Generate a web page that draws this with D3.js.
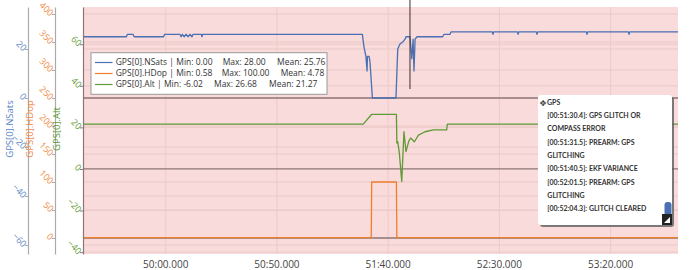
<!DOCTYPE html>
<html>
<head>
<meta charset="utf-8">
<script src="https://cdn.jsdelivr.net/npm/d3@7"></script>
<style>
  body { margin: 0; background: #fff; }
  svg { display: block; font-family: "Open Sans", sans-serif; }
</style>
</head>
<body>
<svg id="chart" width="690" height="270"></svg>
<script>
// log time in seconds (3000 = 50:00.000), value
var nsats = [
  [2962.8, 25], [2982.3, 25], [2982.8, 26], [2985.3, 26], [2985.8, 25],
  [2999.0, 25], [2999.5, 26], [3006.4, 26], [3006.9, 25], [3007.5, 26],
  [3008.3, 25], [3009.1, 26], [3010.1, 25], [3010.9, 26], [3011.8, 25],
  [3012.3, 26], [3016.0, 26], [3016.3, 25], [3016.6, 26], [3088.4, 26],
  [3089.1, 21], [3090.0, 17], [3090.5, 11], [3090.7, 17], [3091.4, 17],
  [3091.8, 15], [3092.9, 0], [3103.5, 0], [3104.3, 20], [3105.3, 22],
  [3106.7, 23], [3107.6, 24], [3108.0, 25], [3109.8, 25], [3110.6, 16],
  [3111.2, 24], [3111.6, 11], [3112.1, 24], [3113.0, 25], [3124.5, 25],
  [3125.1, 26], [3127.8, 26], [3128.3, 27], [3146.8, 27], [3147.1, 26],
  [3147.4, 27], [3158.1, 27], [3158.4, 26], [3158.7, 27], [3166.6, 27],
  [3166.9, 26], [3167.2, 27], [3189.1, 27], [3189.4, 26], [3189.7, 27],
  [3208.0, 27], [3208.3, 26], [3208.6, 27], [3230.3, 27]
];
var hdop = [
  [2962.8, 0.58], [3092.4, 0.58], [3092.6, 100], [3103.7, 100],
  [3103.9, 0.58], [3230.3, 0.58]
];
var alt = [
  [2962.8, 21.6], [3088.8, 21.6], [3092.6, 26.3], [3103.7, 26.3],
  [3103.9, 12.5], [3104.3, 13.1], [3105.0, 8], [3106.1, -6.02],
  [3107.1, 17.9], [3108.0, 8.3], [3109.3, 13.5], [3110.1, 14.9],
  [3111.8, 13.1], [3113.6, 16.3], [3116.6, 17.9], [3120.3, 18.8],
  [3126.3, 18.8], [3126.6, 21.6], [3230.3, 21.6]
];

var xTicks = [3000, 3050, 3100, 3150, 3200];
var nsatsTicks = [-60, -40, -20, 0, 20];
var hdopTicks = [0, 50, 100, 150, 200, 250, 300, 350, 400];
var altTicks = [-40, -20, 0, 20, 40, 60];

var seriesNames = ["GPS[0].NSats", "GPS[0].HDop", "GPS[0].Alt"];
var statMin = [0.00, 0.58, -6.02];
var statMax = [28.00, 100.00, 26.68];
var statMean = [25.76, 4.78, 21.27];

var cursorTime = 3109.8;
var msgTitle = "GPS";
var msgLines = [
  "[00:51:30.4]: GPS GLITCH OR", "COMPASS ERROR",
  "[00:51:31.5]: PREARM: GPS", "GLITCHING",
  "[00:51:40.5]: EKF VARIANCE",
  "[00:52:01.5]: PREARM: GPS", "GLITCHING",
  "[00:52:04.3]: GLITCH CLEARED"
];

var colors = ["#4a6fb3", "#f07f2c", "#5e9a36"];
var labelColors = ["#5a86c6", "#f08a45", "#5e9a36"];

var plotL = 83, plotR = 678, plotT = 7, plotB = 254;
var svg = d3.select("#chart");

var x = d3.scaleLinear().domain([2962.8, 3230.3]).range([plotL, plotR]);
var yN = d3.scaleLinear().domain([-63.67, 37.14]).range([plotB, plotT]);
var yH = d3.scaleLinear().domain([-28.6, 412.5]).range([plotB, plotT]);
var yA = d3.scaleLinear().domain([-40.9, 77.9]).range([plotB, plotT]);

function fmtTime(t) {
  var m = Math.floor(t / 60), s = t - m * 60;
  return d3.format("02d")(m) + ":" + d3.format("06.3f")(s);
}

// plot background
svg.append("rect")
  .attr("x", plotL).attr("y", plotT)
  .attr("width", plotR - plotL).attr("height", plotB - plotT)
  .attr("fill", "#f8dbda");

var grid = svg.append("g").attr("stroke", "#eccac8").attr("stroke-width", 1);
grid.selectAll("line.v").data(xTicks).enter().append("line")
  .attr("x1", function(d){ return x(d); }).attr("x2", function(d){ return x(d); })
  .attr("y1", plotT).attr("y2", plotB);

[[yN, nsatsTicks], [yH, hdopTicks], [yA, altTicks]].forEach(function(p) {
  grid.selectAll(null).data(p[1].filter(function(d){ return d != 0; })).enter().append("line")
    .attr("x1", plotL).attr("x2", plotR)
    .attr("y1", function(d){ return p[0](d); }).attr("y2", function(d){ return p[0](d); });
});

// zero lines
svg.append("g").selectAll("line").data([yN(0), yA(0), yH(0)]).enter().append("line")
  .attr("x1", plotL).attr("x2", plotR)
  .attr("y1", function(d){ return d; }).attr("y2", function(d){ return d; })
  .attr("stroke", "#8e7676").attr("stroke-width", 1.3);

// series
var scales = [yN, yH, yA];
[nsats, hdop, alt].forEach(function(data, i) {
  var line = d3.line()
    .x(function(d){ return x(d[0]); })
    .y(function(d){ return scales[i](d[1]); });
  svg.append("path").datum(data)
    .attr("d", line)
    .attr("fill", "none")
    .attr("stroke", colors[i])
    .attr("stroke-width", 1.3)
    .attr("stroke-linejoin", "round");
});

// cursor line
svg.append("line")
  .attr("x1", x(cursorTime)).attr("x2", x(cursorTime))
  .attr("y1", 0).attr("y2", 89)
  .attr("stroke", "#3a3030").attr("stroke-width", 1);

// x axis labels
svg.append("g").selectAll("text").data(xTicks).enter().append("text")
  .attr("x", function(d){ return x(d); })
  .attr("y", 264).attr("dy", "0.35em")
  .attr("text-anchor", "middle")
  .attr("font-size", "10px")
  .attr("fill", "#444")
  .text(fmtTime);

// y axes
var axisDefs = [
  {scale: yN, ticks: nsatsTicks, pos: 28, line: "#aaa"},
  {scale: yH, ticks: hdopTicks, pos: 55, line: "#aaa"},
  {scale: yA, ticks: altTicks, pos: 83, line: "#8e7676"}
];
axisDefs.forEach(function(a, i) {
  var g = svg.append("g")
    .attr("transform", "translate(" + a.pos + ",0)")
    .call(d3.axisLeft(a.scale).tickValues(a.ticks).tickSize(3).tickSizeOuter(0));
  g.select(".domain").attr("stroke", a.line).attr("stroke-width", 1.2);
  g.selectAll(".tick line").attr("stroke", a.line);
  g.selectAll(".tick text")
    .attr("x", 0).attr("dy", "0.35em")
    .attr("transform", "translate(-3,0) rotate(45)")
    .attr("text-anchor", "end")
    .attr("font-family", "Open Sans, sans-serif")
    .attr("font-size", "9px")
    .attr("fill", labelColors[i]);
});

// axis titles
var titleX = [10, 30, 57];
seriesNames.forEach(function(name, i) {
  svg.append("text")
    .attr("transform", "translate(" + titleX[i] + ",129) rotate(-90)")
    .attr("text-anchor", "middle")
    .attr("dy", "0.35em")
    .attr("font-size", "9.5px")
    .attr("fill", labelColors[i])
    .text(name);
});

// legend
var lg = svg.append("g");
lg.append("rect")
  .attr("x", 91).attr("y", 52.7).attr("width", 236).attr("height", 41.6)
  .attr("fill", "#fff").attr("stroke", "#999").attr("stroke-width", 1);
var rowY = [62.5, 73.5, 84.5];
var maxX = [222.7, 221.7, 214];
var meanX = [277, 280.7, 269];
seriesNames.forEach(function(name, i) {
  lg.append("line")
    .attr("x1", 95).attr("x2", 112.5)
    .attr("y1", rowY[i]).attr("y2", rowY[i])
    .attr("stroke", colors[i]).attr("stroke-width", 1.2);
  var t = lg.append("text")
    .attr("y", rowY[i]).attr("dy", "0.35em")
    .attr("font-size", "8.5px").attr("fill", "#333");
  t.append("tspan").attr("x", 115.7).text(name + " | Min: " + statMin[i].toFixed(2));
  t.append("tspan").attr("x", maxX[i]).text("Max: " + statMax[i].toFixed(2));
  t.append("tspan").attr("x", meanX[i]).text("Mean: " + statMean[i].toFixed(2));
});

// message box
var mb = svg.append("g");
mb.append("rect")
  .attr("x", 540).attr("y", 97).attr("width", 134).attr("height", 130)
  .attr("rx", 3).attr("fill", "#555").attr("opacity", 0.75);
mb.append("rect")
  .attr("x", 538).attr("y", 95).attr("width", 134).attr("height", 130)
  .attr("rx", 3).attr("fill", "#fff");
mb.append("text")
  .attr("x", 543).attr("y", 103).attr("dy", "0.35em")
  .attr("text-anchor", "middle")
  .attr("font-family", "DejaVu Sans").attr("font-size", "8px").attr("fill", "#333")
  .text("\u2725");
mb.append("text")
  .attr("x", 547).attr("y", 103).attr("dy", "0.35em")
  .attr("font-family", "Lato, sans-serif").attr("font-size", "7px")
  .attr("font-weight", "bold").attr("fill", "#333")
  .text(msgTitle);
mb.selectAll("text.msg").data(msgLines).enter().append("text")
  .attr("class", "msg")
  .attr("x", 547.3)
  .attr("y", function(d, i){ return 115.7 + i * 13.3; })
  .attr("dy", "0.35em")
  .attr("font-family", "Lato, sans-serif").attr("font-size", "7px")
  .attr("font-weight", "bold").attr("fill", "#333")
  .text(function(d){ return d; });
mb.append("rect")
  .attr("x", 664.5).attr("y", 202).attr("width", 7).attr("height", 14)
  .attr("rx", 3).attr("fill", "#4a6fb3");
mb.append("rect")
  .attr("x", 662).attr("y", 214).attr("width", 10).attr("height", 11)
  .attr("fill", "#222");
mb.append("path")
  .attr("d", "M664,223 L670,223 L670,217 Z")
  .attr("fill", "#fff");
</script>
</body>
</html>
